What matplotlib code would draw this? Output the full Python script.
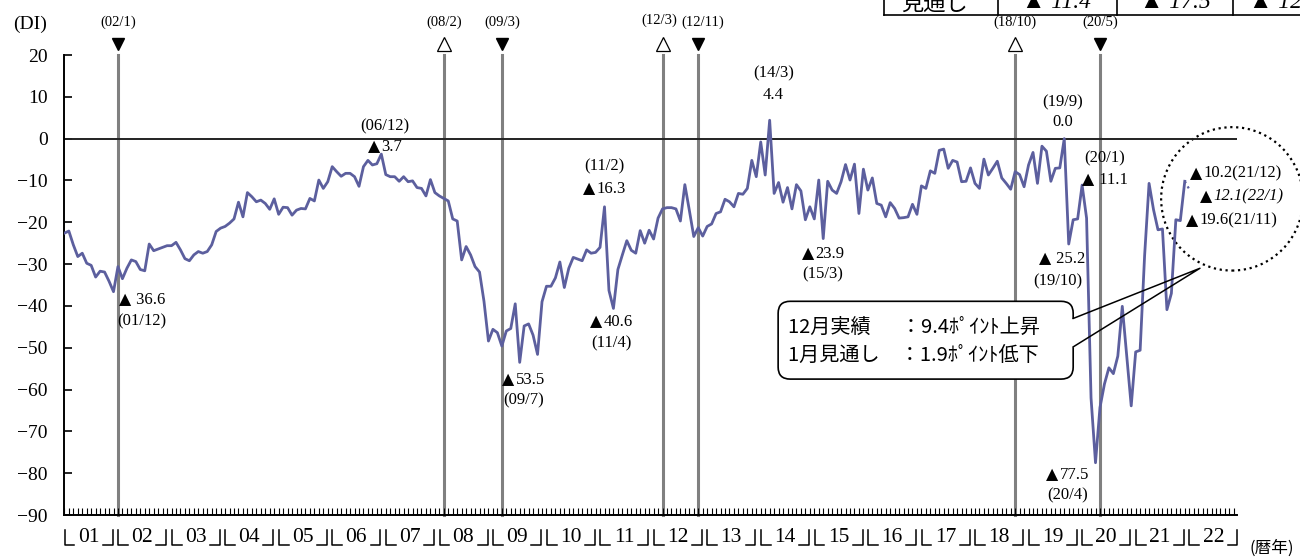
import numpy as np
import matplotlib
matplotlib.use('Agg')
import matplotlib.pyplot as plt
from matplotlib.patches import FancyBboxPatch, Ellipse
from matplotlib.offsetbox import TextArea, HPacker, AnnotationBbox

plt.rcParams['font.family'] = ['Liberation Serif', 'Noto Sans CJK JP', 'DejaVu Sans']
plt.rcParams['axes.unicode_minus'] = True

# monthly DI, 2001/1 .. 2021/12 (actual)
di_2001 = [-22.6, -22.1, -25.4, -28.2, -27.4, -29.8, -30.3, -33.1, -31.7, -31.9, -34.1, -36.6]
di_2002 = [-30.6, -33.5, -31.0, -29.0, -29.4, -31.3, -31.6, -25.2, -26.8, -26.4, -26.0, -25.6]
di_2003 = [-25.6, -24.8, -26.6, -28.7, -29.2, -27.8, -27.0, -27.4, -27.0, -25.4, -22.2, -21.4]
di_2004 = [-21.0, -20.2, -19.2, -15.2, -18.7, -12.9, -13.9, -15.1, -14.7, -15.5, -16.9, -14.4]
di_2005 = [-18.1, -16.4, -16.5, -18.3, -17.1, -16.7, -16.8, -14.3, -14.9, -9.9, -11.9, -10.3]
di_2006 = [-6.7, -7.9, -9.0, -8.3, -8.3, -9.1, -11.4, -6.7, -5.2, -6.3, -6.0, -3.7]
di_2007 = [-8.6, -9.1, -9.1, -10.2, -9.1, -10.3, -10.1, -11.7, -11.9, -13.7, -9.8, -12.9]
di_2008 = [-13.7, -14.3, -14.9, -19.2, -19.7, -29.0, -25.8, -27.8, -30.6, -31.9, -38.9, -48.4]
di_2009 = [-45.6, -46.4, -49.6, -46.0, -45.4, -39.5, -53.5, -44.8, -44.3, -47.0, -51.6, -39.0]
di_2010 = [-35.3, -35.3, -33.3, -29.5, -35.6, -31.0, -28.4, -28.8, -29.2, -26.6, -27.4, -27.2]
di_2011 = [-26.0, -16.3, -36.3, -40.6, -31.3, -27.8, -24.4, -26.7, -27.4, -22.0, -25.0, -21.9]
di_2012 = [-24.0, -19.0, -16.8, -16.5, -16.5, -16.8, -19.7, -11.0, -17.1, -23.4, -21.3, -23.3]
di_2013 = [-21.0, -20.4, -17.9, -17.5, -14.5, -15.1, -16.3, -13.1, -13.3, -11.9, -5.2, -9.1]
di_2014 = [-0.8, -8.7, 4.4, -13.1, -10.5, -15.2, -11.7, -16.8, -11.0, -12.5, -19.4, -16.3]
di_2015 = [-19.2, -9.9, -23.9, -10.2, -12.3, -13.1, -10.3, -6.2, -9.9, -6.1, -17.9, -7.3]
di_2016 = [-12.3, -9.4, -15.5, -15.9, -18.7, -15.3, -16.7, -19.0, -18.9, -18.7, -15.7, -18.1]
di_2017 = [-11.3, -11.9, -7.7, -8.3, -2.8, -2.5, -7.1, -5.2, -5.6, -10.3, -10.2, -7.0]
di_2018 = [-10.7, -11.9, -4.9, -8.7, -7.1, -5.4, -9.4, -10.7, -12.1, -7.9, -8.6, -11.5]
di_2019 = [-6.3, -3.3, -10.7, -1.8, -3.0, -10.2, -7.1, -7.0, 0.0, -25.2, -19.4, -19.2]
di_2020 = [-11.1, -19.0, -62.0, -77.5, -64.3, -58.7, -54.8, -56.2, -52.0, -40.1, -52.0, -63.9]
di_2021 = [-51.0, -50.6, -28.0, -10.7, -17.0, -21.8, -21.6, -40.9, -37.0, -19.4, -19.6, -10.2]
outlook_2022_1 = -12.1

di = (di_2001 + di_2002 + di_2003 + di_2004 + di_2005 + di_2006 + di_2007 + di_2008
      + di_2009 + di_2010 + di_2011 + di_2012 + di_2013 + di_2014 + di_2015 + di_2016
      + di_2017 + di_2018 + di_2019 + di_2020 + di_2021)
years = list(range(2001, 2023))

# business cycle turning points: (label, year, month, kind)
turns = [('(02/1)', 2002, 1, 'trough'), ('(08/2)', 2008, 2, 'peak'), ('(09/3)', 2009, 3, 'trough'),
         ('(12/3)', 2012, 3, 'peak'), ('(12/11)', 2012, 11, 'trough'), ('(18/10)', 2018, 10, 'peak'),
         ('(20/5)', 2020, 5, 'trough')]
label_shift = {'(12/3)': (-0.8, 0.6), '(12/11)': (1.0, 0.0)}

# value labels: (text, x, y)  x in month index, y in DI
notes = [('▲ 36.6', 17.4, -38.7), ('(01/12)', 17.4, -43.7),
         ('(06/12)', 71.8, 3.0), ('▲3.7', 71.8, -2.0),
         ('▲53.5', 102.8, -57.7), ('(09/7)', 102.8, -62.7),
         ('(11/2)', 120.9, -6.7), ('▲16.3', 120.9, -12.0),
         ('▲40.6', 122.5, -43.9), ('(11/4)', 122.5, -48.9),
         ('(14/3)', 158.8, 15.6), ('4.4', 158.8, 10.4),
         ('▲23.9', 169.9, -27.5), ('(15/3)', 169.9, -32.5),
         ('(19/9)', 223.7, 8.7), ('0.0', 223.7, 4.0),
         ('(20/1)', 233.1, -4.8), ('▲ 11.1', 233.1, -9.8),
         ('▲ 25.2', 223.5, -28.9), ('(19/10)', 222.6, -34.1),
         ('▲77.5', 224.8, -80.4), ('(20/4)', 224.8, -85.3)]

line_color = '#5c5f9e'

fig = plt.figure(figsize=(13, 5.59), dpi=100)
ax = fig.add_axes([64.4 / 1300, 44 / 559, (1237 - 64.4) / 1300, 460 / 559])
x = np.arange(len(di))
ax.set_xlim(0, 262.7)
ax.set_ylim(-90, 20)


def label(txt, tx, ty, size=12, style='normal', align=0.5):
    # ▲ drawn in DejaVu Sans so it is as big as in the original
    if not txt.startswith('▲'):
        ax.text(tx, ty, txt, ha={0.5: 'center', 0: 'left'}[align], va='center',
                fontsize=size, style=style, clip_on=False)
        return
    parts = [TextArea('▲', textprops=dict(family='DejaVu Sans', fontsize=size * 0.95)),
             TextArea(txt[1:], textprops=dict(fontsize=size, style=style))]
    box = HPacker(children=parts, align='baseline', pad=0, sep=1)
    ab = AnnotationBbox(box, (tx, ty), xycoords='data', frameon=False,
                        box_alignment=(align, 0.5), annotation_clip=False, pad=0)
    ax.add_artist(ab)


for lab, yy, mm, kind in turns:
    xi = (yy - 2001) * 12 + mm - 1
    ax.plot([xi, xi], [-90, 20], color='#808080', lw=2.2, zorder=1, clip_on=False)
    if kind == 'trough':
        ax.plot(xi, 22.6, marker='v', color='black', ms=9, clip_on=False)
    else:
        ax.plot(xi, 22.6, marker='^', mfc='white', mec='black', mew=0.9, ms=10, clip_on=False)
    dx, dy = label_shift.get(lab, (0, 0))
    ax.text(xi + dx, 27.8 + dy, lab, ha='center', va='center', fontsize=10.5, clip_on=False)

ax.axhline(0, color='#222222', lw=1.4, zorder=2)
ax.plot(x, di, color=line_color, lw=2.0, zorder=3)
ax.plot([x[-1], x[-1] + 1], [di[-1], outlook_2022_1], color=line_color, lw=1.6, ls=':', zorder=3)

for txt, tx, ty in notes:
    label(txt, tx, ty)

# circled latest values
label('▲10.2(21/12)', 252.2, -8.4, align=0)
label('▲12.1(22/1)', 254.4, -13.9, style='italic', align=0)
label('▲19.6(21/11)', 251.3, -19.6, align=0)
ax.add_patch(Ellipse((261.6, -14.4), 31.8, 34.3, fill=False, ls=':', lw=1.6,
                     color='black', clip_on=False))

# callout
ax.add_patch(FancyBboxPatch((159.9, -57.5), 66.1, 18.6,
                            boxstyle='round,pad=0,rounding_size=2.7', mutation_aspect=1.06,
                            fc='white', ec='black', lw=1.2, zorder=5))
ax.plot([226.0, 226.0], [-43.4, -49.3], color='white', lw=2.5, zorder=6)
ax.plot([226.0, 254.4, 226.0], [-43.0, -31.0, -49.8], color='black', lw=1.1, zorder=6,
        clip_on=False)
cjk = ['Noto Sans CJK JP', 'DejaVu Sans']
ax.text(162.0, -45.1, '12月実績\u3000\u2002：9.4ﾎﾟｲﾝﾄ上昇', fontsize=14.5, va='center', ha='left',
        family=cjk, zorder=7)
ax.text(162.0, -51.8, '1月見通し\u3000：1.9ﾎﾟｲﾝﾄ低下', fontsize=14.5, va='center', ha='left',
        family=cjk, zorder=7)

# axes styling
for s in ['top', 'right']:
    ax.spines[s].set_visible(False)
ax.spines['left'].set_linewidth(1.4)
ax.spines['bottom'].set_linewidth(1.4)
ax.set_yticks(np.arange(-90, 21, 10))
ax.tick_params(axis='y', direction='in', length=6, width=1.2, labelsize=14, pad=12)
ax.set_xticks(np.arange(0, 263))
ax.tick_params(axis='x', direction='in', length=5, width=0.8, labelbottom=False)

# year labels with corner brackets
for i, yr in enumerate(years):
    s0 = i * 12 + 0.05
    s1 = i * 12 + 10.8
    ax.plot([s0, s0, s0 + 2.2], [-93.7, -97.1, -97.1], color='black', lw=1.1, clip_on=False)
    ax.plot([s1 - 2.2, s1, s1], [-97.1, -97.1, -93.7], color='black', lw=1.1, clip_on=False)
    ax.text(i * 12 + 5.4, -95.5, str(yr)[2:], ha='center', va='center',
            fontsize=15.5, clip_on=False)
ax.text(270.5, -98.0, '(暦年)', ha='center', va='center', fontsize=12, clip_on=False,
        family=cjk)
ax.text(-7.7, 27.3, '(DI)', ha='center', va='center', fontsize=14, clip_on=False)

# cut-off table at top right
tb_y = 1 - 15 / 559
fig.add_artist(plt.Line2D([884 / 1300, 1], [tb_y, tb_y], color='black', lw=1.2))
for xp in [884, 998, 1117, 1233]:
    fig.add_artist(plt.Line2D([xp / 1300, xp / 1300], [tb_y, 1], color='black', lw=1.2))
fig.text(935 / 1300, 1 - 3 / 559, '見通し', ha='center', va='center', fontsize=16, family=cjk)
fig.text(1057 / 1300, 1 - 3 / 559, '▲ 11.4', ha='center', va='center', fontsize=17, style='italic')
fig.text(1175 / 1300, 1 - 3 / 559, '▲ 17.5', ha='center', va='center', fontsize=17, style='italic')
fig.text(1249 / 1300, 1 - 3 / 559, '▲ 12.1', ha='left', va='center', fontsize=17, style='italic')

fig.savefig('out.png', dpi=100)
